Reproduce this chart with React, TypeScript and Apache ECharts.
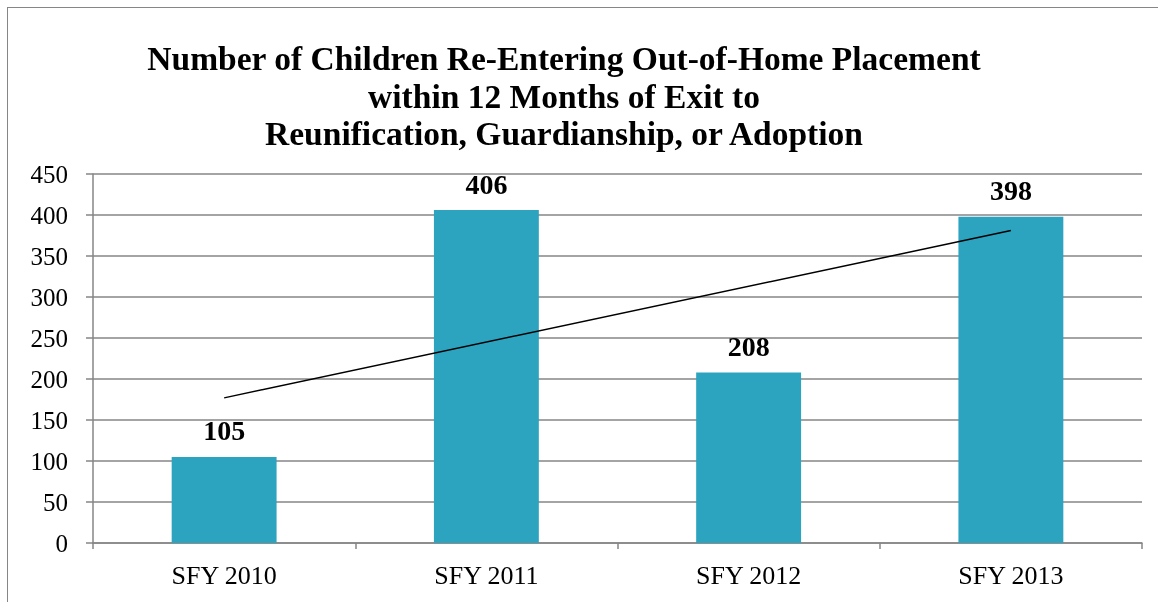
import React, { useEffect, useRef } from "react";
import * as echarts from "echarts";

const categories = ["SFY 2010", "SFY 2011", "SFY 2012", "SFY 2013"];
const values = [105, 406, 208, 398];
const trendValues: (number | string)[] = [177, "-", "-", 381];
const titleLines = [
  "Number of Children Re-Entering Out-of-Home Placement",
  "within 12 Months of Exit to",
  "Reunification, Guardianship, or Adoption",
];

export default function App() {
  const ref = useRef<HTMLDivElement>(null);
  useEffect(() => {
    if (!ref.current) return;
    const chart = echarts.init(ref.current, undefined, { renderer: "svg" });
    const font = "'Liberation Serif', serif";
    chart.setOption({
      animation: false,
      title: {
        text: titleLines.join("\n"),
        left: 551,
        top: 27,
        textAlign: "center",
        textStyle: {
          fontFamily: font,
          fontWeight: "bold",
          fontSize: 33.5,
          lineHeight: 37.5,
          color: "#000",
        },
      },
      grid: { left: 85, top: 166, right: 16, bottom: 59, containLabel: false },
      xAxis: {
        type: "category",
        data: categories,
        axisLine: { lineStyle: { color: "#868686", width: 1.5 } },
        axisTick: { show: true, length: 6, lineStyle: { color: "#868686", width: 1.5 } },
        axisLabel: { fontFamily: font, fontSize: 26, color: "#000", margin: 19 },
      },
      yAxis: {
        type: "value",
        min: 0,
        max: 450,
        interval: 50,
        axisLine: { show: true, lineStyle: { color: "#868686", width: 1.5 } },
        axisTick: { show: true, length: 7, lineStyle: { color: "#868686", width: 1.5 } },
        splitLine: { lineStyle: { color: "#868686", width: 1.5 } },
        axisLabel: { fontFamily: font, fontSize: 25, color: "#000", margin: 25 },
      },
      series: [
        {
          type: "bar",
          data: values,
          barWidth: "40%",
          itemStyle: { color: "#2CA3BF" },
          label: {
            show: true,
            position: "top",
            distance: 12,
            fontFamily: font,
            fontWeight: "bold",
            fontSize: 28,
            color: "#000",
          },
        },
        {
          type: "line",
          data: trendValues,
          connectNulls: true,
          symbol: "none",
          lineStyle: { color: "#000", width: 1.5 },
        },
      ],
    });
    return () => chart.dispose();
  }, []);
  return (
    <div
      ref={ref}
      style={{
        position: "fixed",
        left: 7,
        top: 7,
        width: 1151,
        height: 595,
        borderLeft: "1.5px solid #868686",
        borderTop: "1.5px solid #868686",
        boxSizing: "border-box",
      }}
    />
  );
}
